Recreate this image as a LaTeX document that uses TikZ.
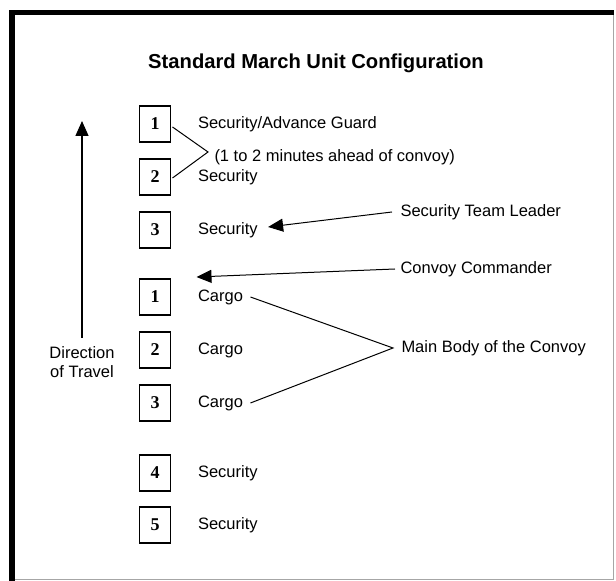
\documentclass[tikz,border=0pt]{standalone}
\usepackage{fontspec}
\setmainfont{Liberation Sans}
\newfontfamily\boxfont{Liberation Serif}
\usetikzlibrary{arrows.meta,positioning}

\begin{document}
\begin{tikzpicture}[
    x = 0.5pt, y = -0.5pt, % one unit per pixel, y runs down
    node distance = 8.5pt, % gap between unit boxes
    line width = 0.5pt
    ]

    \tikzset{
    unit/.style = {draw, line width=0.9pt, minimum width=15.5pt, minimum height=18pt,
        inner sep=0pt, outer sep=0pt, font=\boxfont\fontsize{9}{9}\selectfont\bfseries},
    role/.style = {inner sep=0pt, font=\fontsize{8.25}{9.5}\selectfont},
    pointer/.style = {-{Triangle[length=7.5pt,width=6.5pt]}}
    }

    % page frame
    \useasboundingbox (0,0) rectangle (616,581);
    \draw[gray!70, line width=0.8pt] (12,579.5) -- (613.5,579.5) -- (613.5,12);
    \draw[line width=2.6pt] (12,581) -- (12,12.5) -- (614,12.5);

    \node[font=\fontsize{10.1}{12}\selectfont\bfseries] (title) at (316,63) {Standard March Unit Configuration};

    % vehicles in march order
    \node[unit] (s1) at (155,124) {1};
    \node[unit] (s2) [below=of s1] {2};
    \node[unit] (s3) [below=of s2] {3};
    \node[unit] (c1) [below=15.5pt of s3] {1};
    \node[unit] (c2) [below=of c1] {2};
    \node[unit] (c3) [below=of c2] {3};
    \node[unit] (s4) [below=17pt of c3] {4};
    \node[unit] (s5) [below=8pt of s4] {5};

    \node[role] (t1) [right=13.5pt of s1] {Security/Advance Guard};
    \node[role] (t2) [right=13.5pt of s2] {Security};
    \node[role] (t3) [right=13.5pt of s3] {Security};
    \node[role] (n1) [right=13.5pt of c1] {Cargo};
    \node[role] (n2) [right=13.5pt of c2] {Cargo};
    \node[role] (n3) [right=13.5pt of c3] {Cargo};
    \node[role] (t4) [right=13.5pt of s4] {Security};
    \node[role] (t5) [right=13.5pt of s5] {Security};

    % advance guard bracket
    \coordinate (guard) at (208,152);
    \draw ([xshift=1pt,yshift=-1.5pt]s1.east) -- (guard) -- ([xshift=1pt,yshift=-0.5pt]s2.east);
    \node[role,anchor=west] (ahead) at (214,157) {(1 to 2 minutes ahead of convoy)};

    % leaders
    \node[role,anchor=west] (stl) at (400,212) {Security Team Leader};
    \node[role,anchor=west] (cc) at (400,269) {Convoy Commander};
    \node[role,anchor=west] (main) at (401,348) {Main Body of the Convoy};
    \coordinate (lead) at ([xshift=-0.5pt,yshift=10pt]n1.west);

    \draw[pointer] ([xshift=-4pt]stl.west) -- ([xshift=5pt,yshift=1.5pt]t3.east);
    \draw[pointer] ([xshift=-2.5pt]cc.west) -- (lead);
    \draw ([xshift=3.5pt]n1.east) -- ([xshift=-4pt]main.west) -- ([xshift=3.5pt]n3.east);

    % direction of travel
    \node[role,align=center] (dir) at (82,362) {Direction\\of Travel};
    \coordinate (head) at ([yshift=1.5pt]dir.north |- s1.center);
    \draw[pointer, line width=0.7pt] ([yshift=4pt]dir.north) -- (head);
\end{tikzpicture}
\end{document}
